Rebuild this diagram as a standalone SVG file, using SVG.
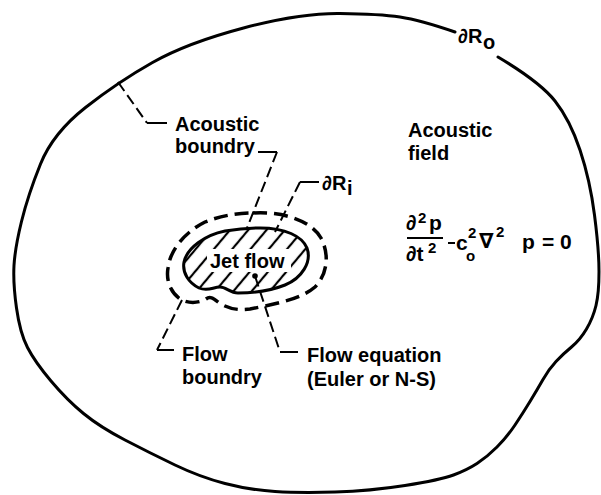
<svg xmlns="http://www.w3.org/2000/svg" width="601" height="495" viewBox="0 0 601 495">
<style>
.t{font-family:"Liberation Sans","DejaVu Sans",Arial,sans-serif;font-weight:bold;font-size:20px;fill:#000}
.eq{font-family:"Liberation Sans","DejaVu Sans",Arial,sans-serif;font-weight:bold;font-size:21px;fill:#000}
.sup{font-family:"Liberation Sans","DejaVu Sans",Arial,sans-serif;font-weight:bold;font-size:15px;fill:#000}
.solid{fill:none;stroke:#000;stroke-width:3;stroke-linejoin:round;stroke-linecap:round}
.ring{fill:none;stroke:#000;stroke-width:3.5;stroke-dasharray:14 7}
.lead{fill:none;stroke:#000;stroke-width:2;stroke-dasharray:11 5}
.leadS{fill:none;stroke:#000;stroke-width:2}
</style>
<defs>
<pattern id="hatch" width="14" height="14" patternUnits="userSpaceOnUse" patternTransform="rotate(40)">
<line x1="2" y1="-2" x2="2" y2="16" stroke="#000" stroke-width="2.2"/>
</pattern>
<clipPath id="jetClip">
<path d="M 260,228 C 285,228 302,236 307,248 C 312,262 302,278 285,285 C 270,291 250,293 238,293 C 230,293 226,287 220,287 C 213,287 208,292 199,288 C 189,283 182,273 184,262 C 187,248 205,235 225,231 C 237,229 248,228 260,228 Z"/>
</clipPath>
<mask id="textGap">
<rect x="0" y="0" width="601" height="495" fill="#fff"/>
<rect x="207" y="249" width="84" height="23" fill="#000"/>
</mask>
</defs>
<rect width="601" height="495" fill="#fff"/>

<g id="outer-boundary">
<path class="solid" stroke-width="2.6" d="M 498,57 Q 540,82 555,101 Q 570,120 580,150 Q 590,180 594.5,215 Q 599,250 599,271.5 Q 599,293 596,305.5 Q 593,318 586.5,329 Q 580,340 571.5,347 Q 563,354 556,361.5 Q 549,369 543,379.5 Q 537,390 530,401.5 Q 523,413 515,425 Q 507,437 497,447 Q 487,457 477,463.5 Q 467,470 453.5,475 Q 440,480 405,485.5 Q 370,491 335,492 Q 300,493 275,491.5 Q 250,490 225,483.5 Q 200,477 175,465 Q 150,453 125,440 Q 100,427 83.5,413.5 Q 67,400 51,381 Q 35,362 27.5,347.5 Q 20,333 16.5,308 Q 13,283 14,265.5 Q 15,248 21.5,221.5 Q 28,195 40.5,164 Q 53,133 85.5,107.5 Q 118,82 152.5,62.5 Q 187,43 243.5,28 Q 300,13 340,13.5 Q 380,14 400,17 Q 420,20 455,32"/>
<text class="t" x="458" y="43">∂R</text>
<text class="t" x="483" y="49">o</text>
</g>

<g id="acoustic-boundary">
<path class="ring" d="M 253,213 C 285,211 312,222 321,238 C 330,255 327,275 315,287 C 300,300 270,305 250,309 C 238,311 226,308 218,302 C 213,298 210,296 206,299 C 200,303 188,304 180,299 C 170,292 166,280 168,268 C 170,250 185,232 205,222 C 220,216 236,213 253,213 Z"/>
</g>

<g id="jet-flow">
<g clip-path="url(#jetClip)" mask="url(#textGap)">
<rect x="180" y="225" width="135" height="72" fill="url(#hatch)"/>
</g>
<path class="solid" d="M 260,228 C 285,228 302,236 307,248 C 312,262 302,278 285,285 C 270,291 250,293 238,293 C 230,293 226,287 220,287 C 213,287 208,292 199,288 C 189,283 182,273 184,262 C 187,248 205,235 225,231 C 237,229 248,228 260,228 Z"/>
<text class="t" x="210" y="268">Jet flow</text>
<circle cx="255" cy="276" r="2.8" fill="#000"/>
</g>

<g id="connectors">
<path class="lead" d="M 118,82 L 147,123"/>
<path class="leadS" d="M 147,123 L 167,123"/>
<path class="leadS" d="M 258,152 L 277,152"/>
<path class="lead" d="M 277,152 L 247,228"/>
<path class="leadS" d="M 300,182 L 319,182"/>
<path class="lead" d="M 300,182 L 275,232"/>
<path class="lead" d="M 182,300 L 157,350"/>
<path class="leadS" d="M 157,350 L 174,350"/>
<path class="lead" d="M 255,276 L 280,352"/>
<path class="leadS" d="M 280,352 L 298,352"/>
</g>

<g id="label-acoustic-boundry">
<text class="t" x="175" y="131">Acoustic</text>
<text class="t" x="175" y="153">boundry</text>
</g>
<g id="label-inner-boundary">
<text class="t" x="322" y="190">∂R</text>
<text class="t" x="347" y="195">i</text>
</g>
<g id="label-acoustic-field">
<text class="t" x="408" y="137">Acoustic</text>
<text class="t" x="408" y="160">field</text>
</g>
<g id="label-flow-boundry">
<text class="t" x="182" y="361">Flow</text>
<text class="t" x="182" y="384">boundry</text>
</g>
<g id="label-flow-equation">
<text class="t" x="307" y="362">Flow equation</text>
<text class="t" x="307" y="386">(Euler or N-S)</text>
</g>

<g id="equation">
<text class="eq" x="406" y="230">∂</text>
<text class="sup" x="418" y="223">2</text>
<text class="eq" x="429" y="230">p</text>
<line x1="407" y1="238" x2="443" y2="238" stroke="#000" stroke-width="2"/>
<text class="eq" x="406" y="261">∂t</text>
<text class="sup" x="428" y="253">2</text>
<line x1="448" y1="243" x2="455" y2="243" stroke="#000" stroke-width="2"/>
<text class="eq" x="456" y="250">c</text>
<text class="sup" x="468" y="238">2</text>
<text class="sup" x="466" y="261" font-size="14">o</text>
<text class="eq" x="479" y="248" font-size="17">∇</text>
<text class="sup" x="496" y="237">2</text>
<text class="eq" x="522" y="249">p</text>
<text class="eq" x="542" y="249">=</text>
<text class="eq" x="560" y="249">0</text>
</g>
</svg>
